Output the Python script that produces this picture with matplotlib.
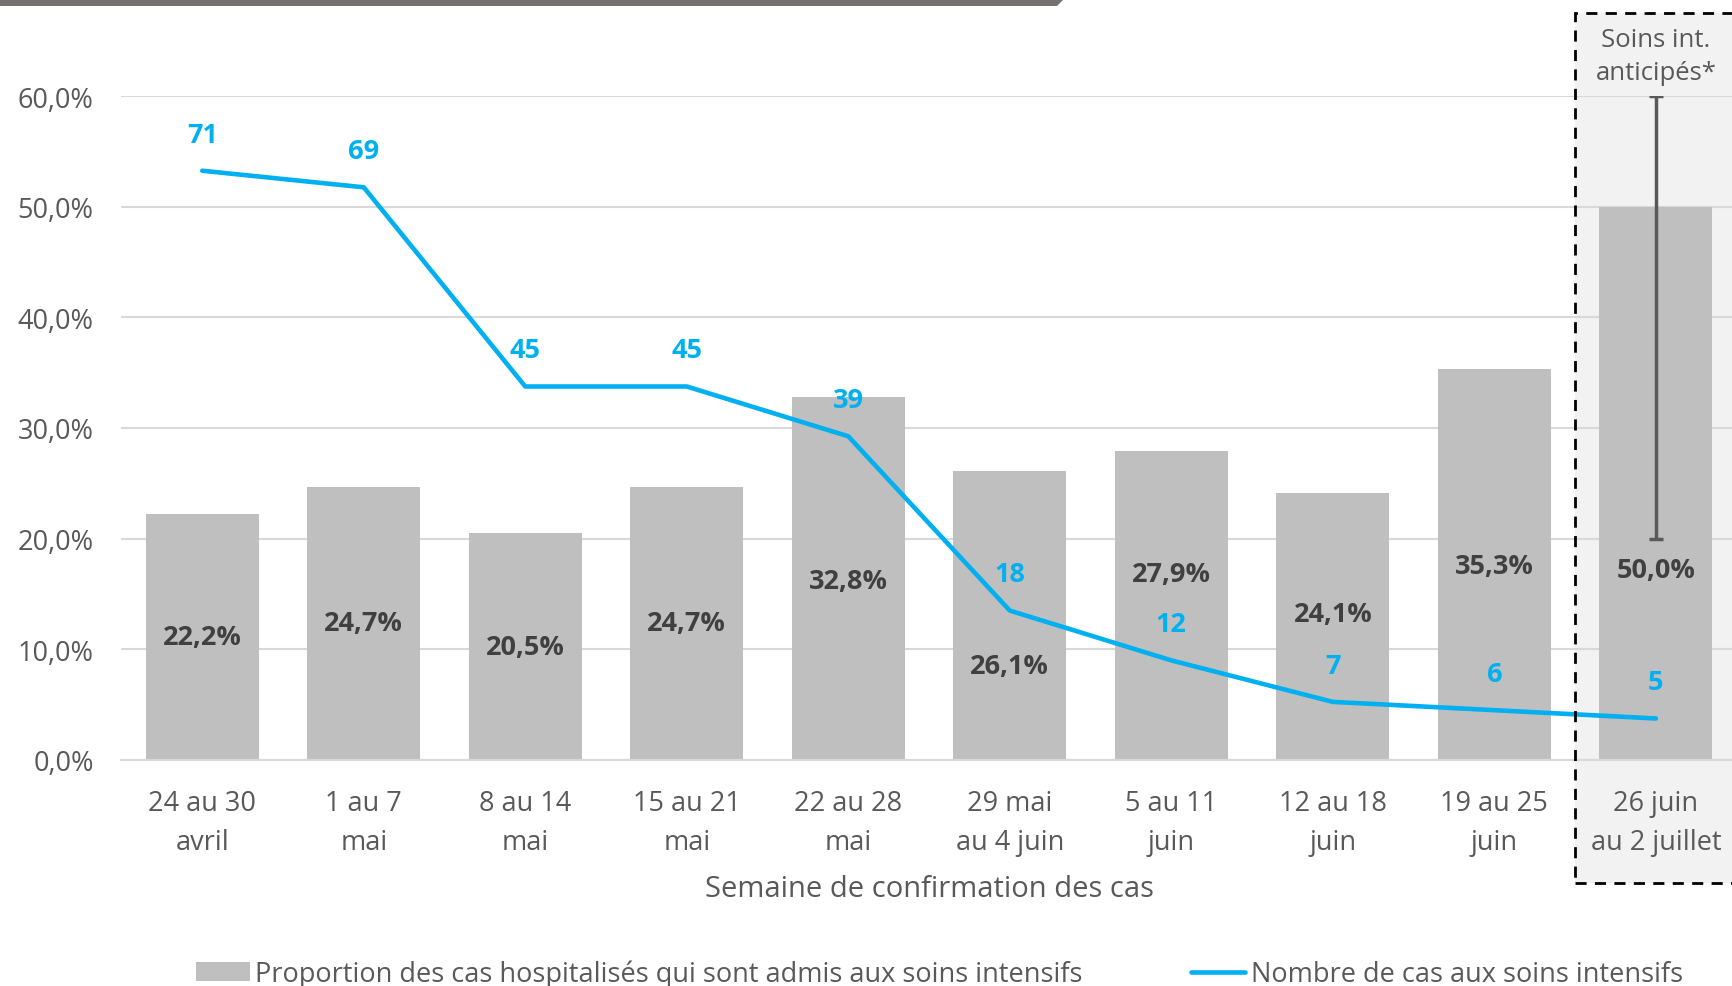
import matplotlib
matplotlib.use('agg')

import matplotlib.pyplot as plt
import matplotlib.patches as mpatches
from matplotlib.lines import Line2D
import numpy as np

plt.rcParams['font.family'] = ['Open Sans', 'DejaVu Sans']

# Data
weeks = ["24 au 30\navril", "1 au 7\nmai", "8 au 14\nmai", "15 au 21\nmai",
         "22 au 28\nmai", "29 mai\nau 4 juin", "5 au 11\njuin", "12 au 18\njuin",
         "19 au 25\njuin", "26 juin\nau 2 juillet"]
proportion = [22.2, 24.7, 20.5, 24.7, 32.8, 26.1, 27.9, 24.1, 35.3, 50.0]
icu_cases = [71, 69, 45, 45, 39, 18, 12, 7, 6, 5]
anticipated_low = 20.0
anticipated_high = 60.0

# where the % labels sit inside the bars (moved off the line where needed)
label_y = [11.1, 12.35, 10.25, 12.35, 16.2, 8.5, 16.8, 13.2, 17.5, 17.2]

bar_color = '#BFBFBF'
line_color = '#00B0F0'
text_color = '#595959'
label_color = '#404040'

fig = plt.figure(figsize=(17.33, 9.87), dpi=100)
ax = fig.add_axes([0.0701, 0.229, 0.932, 0.6727])
ax.set_facecolor('none')

# shaded box for the anticipated week
box_fill = mpatches.Rectangle((0.9088, 0.1044), 0.2, 0.8814, transform=fig.transFigure,
                              facecolor='#F2F2F2', edgecolor='none', zorder=-5)
fig.patches.append(box_fill)
box_edge = mpatches.Rectangle((0.9088, 0.1044), 0.2, 0.8814, transform=fig.transFigure,
                              facecolor='none', edgecolor='black', linestyle=(0, (4, 3)),
                              linewidth=2, zorder=10)
fig.patches.append(box_edge)

# top banner strip
banner = mpatches.Polygon([(0, 1.0), (1064 / 1733, 1.0), (1057 / 1733, 1 - 7 / 987), (0, 1 - 7 / 987)],
                          closed=True, transform=fig.transFigure, facecolor='#767171',
                          edgecolor='none')
fig.patches.append(banner)

x = np.arange(len(weeks))
ax.bar(x, proportion, width=0.7, color=bar_color, zorder=2)
ax.set_xlim(-0.5, len(weeks) - 0.5)
ax.set_ylim(0, 60)
ax.set_yticks(np.arange(0, 61, 10))
ax.set_yticklabels([f"{v:.1f}%".replace('.', ',') for v in np.arange(0, 61, 10)],
                   fontsize=19.5, color=text_color)
ax.yaxis.grid(True, color='#D9D9D9', linewidth=1.5, zorder=0)
ax.set_axisbelow(True)
ax.set_xticks(x)
ax.set_xticklabels(weeks, fontsize=19.5, color=text_color, linespacing=1.5)
ax.tick_params(axis='both', length=0)
ax.tick_params(axis='x', pad=21)
ax.tick_params(axis='y', pad=20)
for s in ['top', 'right', 'left']:
    ax.spines[s].set_visible(False)
ax.spines['bottom'].set_color('#D9D9D9')
ax.spines['bottom'].set_linewidth(1.5)
ax.set_xlabel('Semaine de confirmation des cas', fontsize=21, color=text_color, labelpad=13)

for i, v in enumerate(proportion):
    ax.text(x[i], label_y[i], f"{v:.1f}%".replace('.', ','), ha='center', va='center',
            fontsize=19.5, fontweight='bold', color=label_color, zorder=4)

# anticipated range
ax.errorbar(x[-1], (anticipated_low + anticipated_high) / 2,
            yerr=(anticipated_high - anticipated_low) / 2, fmt='none',
            ecolor=text_color, elinewidth=2.5, capsize=5, capthick=2.5, zorder=5)
ax.text(x[-1], 63.6, "Soins int.\nanticipés*", ha='center', va='center', fontsize=18.5,
        color=text_color, linespacing=1.45, clip_on=False)

# number of ICU cases on secondary axis
ax2 = ax.twinx()
ax2.set_ylim(0, 80)
ax2.plot(x, icu_cases, color=line_color, linewidth=3.3, solid_capstyle='round',
         solid_joinstyle='round', zorder=6)
for i, v in enumerate(icu_cases):
    ax2.annotate(str(v), (x[i], v), xytext=(0, 26), textcoords='offset points',
                 ha='center', va='center', fontsize=19.5, fontweight='bold', color=line_color)
ax2.set_yticks([])
for s in ax2.spines.values():
    s.set_visible(False)

# legend
handles = [mpatches.Patch(facecolor=bar_color, edgecolor='none'),
           Line2D([0], [0], color=line_color, linewidth=3.3, solid_capstyle='round')]
fig.legend(handles, ['Proportion des cas hospitalisés qui sont admis aux soins intensifs',
                     'Nombre de cas aux soins intensifs'],
           loc='center', bbox_to_anchor=(0.542, 0.012), ncol=2, frameon=False,
           fontsize=19.5, labelcolor=text_color, columnspacing=4.0, handlelength=2.0,
           handletextpad=0.2)

fig.savefig('out.png', dpi=100)
